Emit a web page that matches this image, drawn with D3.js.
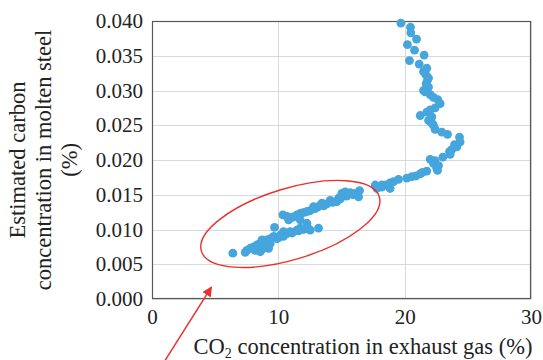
<!DOCTYPE html>
<html>
<head>
<meta charset="utf-8">
<script src="https://cdn.jsdelivr.net/npm/d3@7"></script>
<style>
  body { margin: 0; background: #fff; }
  svg { display: block; font-family: "Liberation Serif", "DejaVu Serif", serif; }
</style>
</head>
<body>
<div id="chart"></div>
<script>
// CO2 concentration in exhaust gas (%)
const co2 = [
  19.70, 20.46, 20.49, 20.94, 20.22, 20.78, 21.54, 20.38, 21.15, 21.75,
  21.67, 21.49, 21.89, 21.81, 21.70, 21.89, 21.49, 21.62, 22.02, 22.28,
  22.62, 22.81, 22.41, 22.02, 21.75, 21.23, 22.15, 21.89, 22.05, 22.20,
  22.28, 22.41, 22.94, 23.39, 24.34, 24.39, 24.13, 23.95, 23.73, 23.55,
  23.60, 23.02, 22.02, 22.40, 22.28, 22.68, 22.54, 22.60, 21.75, 21.40,
  21.23, 20.57, 20.90, 20.17, 19.51, 19.12, 18.85, 18.85, 18.54, 18.19,
  18.19, 17.80, 17.67,
  16.43, 16.35, 16.10, 15.90, 15.69, 15.40, 15.29, 15.03, 14.90, 14.77,
  14.63, 14.30, 14.11, 13.84, 13.60, 13.45, 13.32, 13.10, 12.90, 12.79,
  12.52, 12.30, 12.13, 11.90, 11.73, 11.47, 11.21, 11.00, 10.68, 10.36,
  10.81, 11.73, 12.26, 12.52, 13.18, 12.40, 12.00, 11.73, 11.60, 11.47,
  11.10, 10.94, 10.68, 10.41, 10.40, 10.00, 9.70, 10.15, 9.89, 9.63,
  9.36, 9.10, 8.84, 8.57, 8.31, 8.04, 7.78, 7.51, 7.38, 6.40,
  8.17, 8.57, 9.23, 8.84, 8.44, 8.96, 9.36, 8.70, 9.23
];

// estimated carbon concentration in molten steel (%)
const carbon = [
  0.0397, 0.0391, 0.0383, 0.0374, 0.0366, 0.0358, 0.0351, 0.0343, 0.0338, 0.0332,
  0.0323, 0.0327, 0.0318, 0.0315, 0.0310, 0.0305, 0.0300, 0.0298, 0.0294, 0.0290,
  0.0287, 0.0281, 0.0275, 0.0272, 0.0269, 0.0264, 0.0262, 0.0257, 0.0255, 0.0252,
  0.0250, 0.0244, 0.0240, 0.0237, 0.0233, 0.0226, 0.0219, 0.0222, 0.0215, 0.0212,
  0.0208, 0.0204, 0.0201, 0.0199, 0.0195, 0.0192, 0.0188, 0.0185, 0.0184, 0.0182,
  0.0180, 0.0176, 0.0177, 0.0174, 0.0172, 0.0169, 0.0167, 0.0159, 0.0164, 0.0161,
  0.0164, 0.0159, 0.0164,
  0.0156, 0.0147, 0.0152, 0.0150, 0.0153, 0.0148, 0.0154, 0.0152, 0.0144, 0.0145,
  0.0140, 0.0139, 0.0142, 0.0137, 0.0134, 0.0138, 0.0135, 0.0132, 0.0130, 0.0133,
  0.0127, 0.0126, 0.0125, 0.0124, 0.0123, 0.0121, 0.0118, 0.0117, 0.0119, 0.0121,
  0.0114, 0.0114, 0.0109, 0.0099, 0.0102, 0.0101, 0.0100, 0.0102, 0.0098, 0.0099,
  0.0095, 0.0097, 0.0094, 0.0097, 0.0090, 0.0088, 0.0103, 0.0092, 0.0087, 0.0090,
  0.0087, 0.0085, 0.0082, 0.0080, 0.0078, 0.0075, 0.0073, 0.0070, 0.0067, 0.0066,
  0.0070, 0.0068, 0.0073, 0.0073, 0.0074, 0.0078, 0.0080, 0.0085, 0.0082
];

const xTicks = [0, 10, 20, 30];
const yTicks = [0, 0.005, 0.010, 0.015, 0.020, 0.025, 0.030, 0.035, 0.040];

const xTitle = ["CO", "2", " concentration in exhaust gas (%)"];
const yTitle = ["Estimated carbon", "concentration in molten steel", "(%)"];

// annotation: ellipse round the low-CO2 group, arrow pointing at it
const ellipseCentre = [10.95, 0.0108];
const arrowFrom = [1.05, -0.0088];
const arrowTo = [4.7, 0.0017];

const width = 543;
const height = 360;
const margin = { top: 21, right: 12, bottom: 61, left: 152 };

const svg = d3.select("#chart")
  .append("svg")
  .attr("width", width)
  .attr("height", height);

const x = d3.scaleLinear()
  .domain([0, 30])
  .range([margin.left, width - margin.right]);

const y = d3.scaleLinear()
  .domain([0, 0.04])
  .range([height - margin.bottom, margin.top]);

// gridlines
svg.append("g")
  .attr("stroke", "#d9d9d9")
  .attr("stroke-width", 1)
  .selectAll("line.h")
  .data(yTicks)
  .join("line")
  .attr("x1", margin.left)
  .attr("x2", width - margin.right)
  .attr("y1", d => Math.round(y(d)) + 0.5)
  .attr("y2", d => Math.round(y(d)) + 0.5);

svg.append("g")
  .attr("stroke", "#d9d9d9")
  .attr("stroke-width", 1)
  .selectAll("line")
  .data(xTicks)
  .join("line")
  .attr("x1", d => Math.round(x(d)) + 0.5)
  .attr("x2", d => Math.round(x(d)) + 0.5)
  .attr("y1", margin.top)
  .attr("y2", height - margin.bottom);

// axes (labels only, no tick marks)
const xAxis = svg.append("g")
  .attr("transform", `translate(0,${height - margin.bottom})`)
  .call(d3.axisBottom(x).tickValues(xTicks).tickSize(0).tickPadding(10).tickFormat(d3.format("d")));

const yAxis = svg.append("g")
  .attr("transform", `translate(${margin.left},0)`)
  .call(d3.axisLeft(y).tickValues(yTicks).tickSize(0).tickPadding(9).tickFormat(d3.format(".3f")));

[xAxis, yAxis].forEach(g => {
  g.select(".domain").remove();
  g.attr("font-family", null).attr("font-size", null);
  g.selectAll("text")
    .attr("font-size", 21)
    .attr("fill", "#222");
});

// plot frame
svg.append("rect")
  .attr("x", margin.left + 0.5)
  .attr("y", margin.top + 0.5)
  .attr("width", width - margin.left - margin.right - 1)
  .attr("height", height - margin.top - margin.bottom - 1)
  .attr("fill", "none")
  .attr("stroke", "#595959")
  .attr("stroke-width", 1.2);

// points
const points = d3.zip(co2, carbon);

svg.append("g")
  .attr("fill", "#45a5dc")
  .selectAll("circle")
  .data(points)
  .join("circle")
  .attr("cx", d => x(d[0]))
  .attr("cy", d => y(d[1]))
  .attr("r", 4.4);

// red ellipse
svg.append("ellipse")
  .attr("cx", 0)
  .attr("cy", 0)
  .attr("rx", 93)
  .attr("ry", 35.5)
  .attr("transform", `translate(${x(ellipseCentre[0])},${y(ellipseCentre[1])}) rotate(-17)`)
  .attr("fill", "none")
  .attr("stroke", "#e8312f")
  .attr("stroke-width", 1.4);

// red arrow
svg.append("defs")
  .append("marker")
  .attr("id", "head")
  .attr("viewBox", "0 0 10 10")
  .attr("refX", 9)
  .attr("refY", 5)
  .attr("markerWidth", 10)
  .attr("markerHeight", 10)
  .attr("markerUnits", "userSpaceOnUse")
  .attr("orient", "auto")
  .append("path")
  .attr("d", "M0,0L10,5L0,10z")
  .attr("fill", "#e8312f");

svg.append("line")
  .attr("x1", x(arrowFrom[0]))
  .attr("y1", y(arrowFrom[1]))
  .attr("x2", x(arrowTo[0]))
  .attr("y2", y(arrowTo[1]))
  .attr("stroke", "#e8312f")
  .attr("stroke-width", 1.5)
  .attr("marker-end", "url(#head)");

// x title with subscript 2
const xt = svg.append("text")
  .attr("x", 363)
  .attr("y", 354)
  .attr("text-anchor", "middle")
  .attr("font-size", 22.5)
  .attr("fill", "#222");

xt.append("tspan").text(xTitle[0]);
xt.append("tspan").attr("font-size", 14).attr("dy", 4).text(xTitle[1]);
xt.append("tspan").attr("dy", -4).text(xTitle[2]);

// y title, three rotated lines
svg.append("g")
  .selectAll("text")
  .data(yTitle)
  .join("text")
  .attr("transform", (d, i) => `translate(${25 + i * 26},${(margin.top + height - margin.bottom) / 2}) rotate(-90)`)
  .attr("text-anchor", "middle")
  .attr("font-size", 22.5)
  .attr("fill", "#222")
  .text(d => d);
</script>
</body>
</html>
